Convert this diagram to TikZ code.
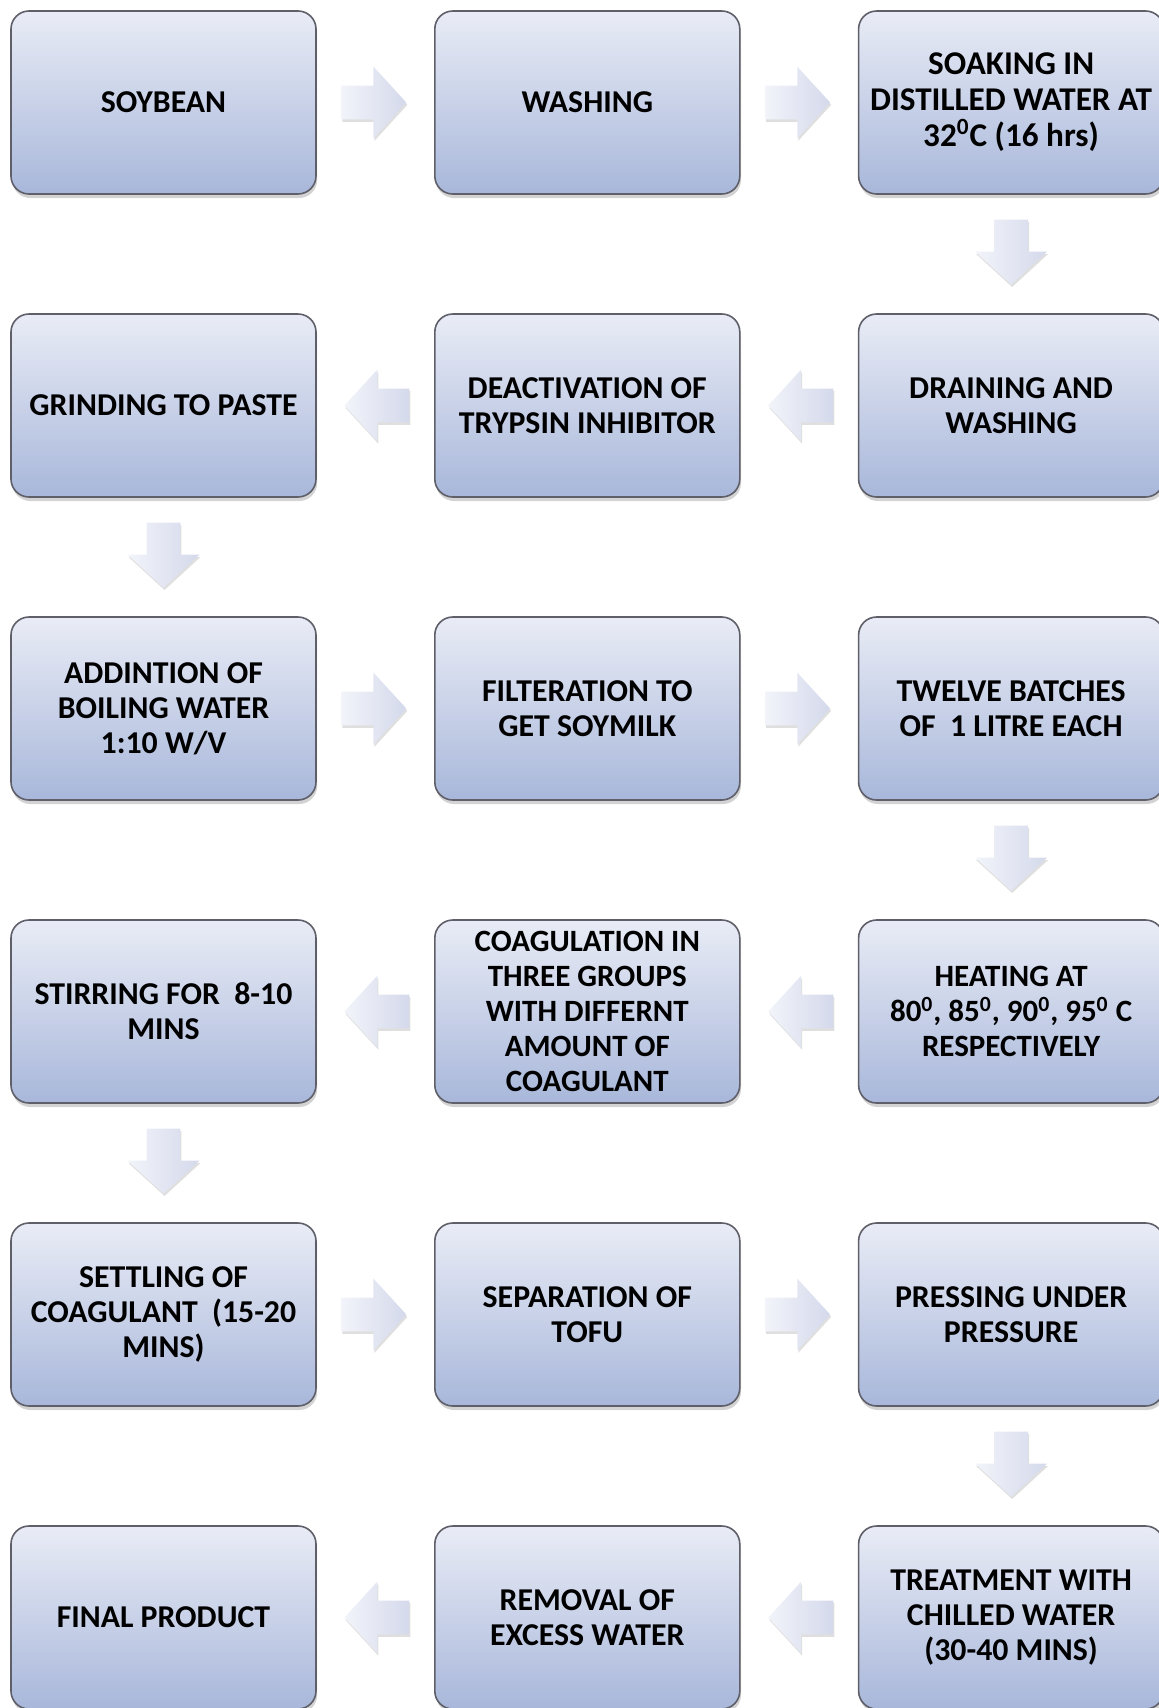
\documentclass[tikz,border=0pt]{standalone}
\usepackage{fontspec}
\setmainfont{Carlito}
\usetikzlibrary{positioning,shapes.arrows,shadows}
\definecolor{boxtop}{RGB}{233,236,246}
\definecolor{boxbot}{RGB}{168,183,218}
\definecolor{boxline}{RGB}{95,95,105}
\definecolor{arrtail}{RGB}{242,244,250}
\definecolor{arrtip}{RGB}{212,217,235}
\tikzset{
    stage/.style={
           rectangle,
           rounded corners=9pt,
           draw=boxline, line width=0.8pt, outer sep=0pt,
           top color=boxtop, bottom color=boxbot,
           drop shadow={shadow xshift=0.6pt, shadow yshift=-2pt, opacity=0.35},
           minimum width=152.5pt,
           minimum height=91.5pt,
           align=center,
           font=\bfseries\fontsize{15.9}{17.6}\selectfont},
    % Define block arrow style
    flow/.style={
           single arrow,
           sloped, allow upside down,
           anchor=tail, pos=0.21,
           inner sep=0pt, inner ysep=8.25pt,
           minimum height=32.5pt,
           single arrow head extend=9.5pt,
           single arrow tip angle=95,
           left color=arrtail, right color=arrtip,
           drop shadow={shadow xshift=0.5pt, shadow yshift=-1.2pt, opacity=0.25}}
}
\begin{document}
\begin{tikzpicture}[node distance=60pt and 59.4pt]
	\useasboundingbox (0pt,0pt) rectangle (579.5pt,-854pt);
	\node[stage] (soybean) at (81.75pt,-51.25pt) {SOYBEAN};
	\node[stage, right=of soybean] (washing) {WASHING};
	\node[stage, right=of washing, font=\bfseries\fontsize{16.6}{18}\selectfont] (soaking) {SOAKING IN\\DISTILLED WATER AT\\32\textsuperscript{0}C (16 hrs)};
	\node[stage, below=of soaking] (draining) {DRAINING AND\\WASHING};
	\node[stage, left=of draining] (deactivation) {DEACTIVATION OF\\TRYPSIN INHIBITOR};
	\node[stage, left=of deactivation] (grinding) {GRINDING TO PASTE};
	\node[stage, below=of grinding] (boiling) {ADDINTION OF\\BOILING WATER\\1:10 W/V};
	\node[stage, right=of boiling] (filtering) {FILTERATION TO\\GET SOYMILK};
	\node[stage, right=of filtering] (batches) {TWELVE BATCHES\\OF~ 1 LITRE EACH};
	\node[stage, below=of batches, font=\bfseries\fontsize{15.5}{17.6}\selectfont] (heating) {HEATING AT\\80\textsuperscript{0}, 85\textsuperscript{0}, 90\textsuperscript{0}, 95\textsuperscript{0} C\\RESPECTIVELY};
	\node[stage, left=of heating, font=\bfseries\fontsize{15.5}{17.6}\selectfont] (coagulation) {COAGULATION IN\\THREE GROUPS\\WITH DIFFERNT\\AMOUNT OF\\COAGULANT};
	\node[stage, left=of coagulation] (stirring) {STIRRING FOR~ 8-10\\MINS};
	\node[stage, below=of stirring] (settling) {SETTLING OF\\COAGULANT~ (15-20\\MINS)};
	\node[stage, right=of settling] (separation) {SEPARATION OF\\TOFU};
	\node[stage, right=of separation] (pressing) {PRESSING UNDER\\PRESSURE};
	\node[stage, below=of pressing] (chilling) {TREATMENT WITH\\CHILLED WATER\\(30-40 MINS)};
	\node[stage, left=of chilling] (removal) {REMOVAL OF\\EXCESS WATER};
	\node[stage, left=of removal] (final) {FINAL PRODUCT};

	\foreach \from/\to in {soybean/washing, washing/soaking, soaking/draining,
		draining/deactivation, deactivation/grinding, grinding/boiling,
		boiling/filtering, filtering/batches, batches/heating,
		heating/coagulation, coagulation/stirring, stirring/settling,
		settling/separation, separation/pressing, pressing/chilling,
		chilling/removal, removal/final}
		\path (\from) -- node[flow] {} (\to);
\end{tikzpicture}
\end{document}
